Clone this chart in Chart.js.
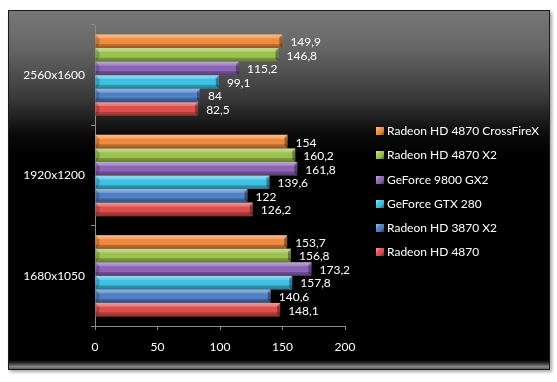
<!DOCTYPE html>
<html>
<head>
<meta charset="utf-8">
<script src="https://cdn.jsdelivr.net/npm/chart.js@4.4.1/dist/chart.umd.min.js"></script>
<style>
  html, body { margin: 0; padding: 0; background: #fff; }
  #wrap { position: relative; width: 557px; height: 382px; overflow: hidden; }
  #frame {
    position: absolute; left: 8px; top: 10px; width: 540px; height: 358px;
    border: 1px solid #1a1a1a;
    background: linear-gradient(to bottom, #767676 0%, #676767 10%, #3a3a3a 24%, #0c0c0c 34%, #000 40%, #000 100%);
    box-shadow: 2px 2px 3px rgba(0,0,0,0.35);
  }
  #floor {
    position: absolute; left: 0; right: 0; bottom: 0; height: 9px;
    background: linear-gradient(to bottom, #000 0%, #3a3a3a 40%, #8a8a8a 75%, #5a5a5a 100%);
  }
  #c { position: absolute; left: 0; top: 0; }
  #legend { position: absolute; left: 376px; top: 124px; font-family: Lato, "Noto Sans", sans-serif; font-size: 12px; color: #fff; }
  .li { height: 24.3px; line-height: 14px; white-space: nowrap; display: flex; align-items: flex-start; }
  .sw { width: 8px; height: 8px; margin-top: 3px; margin-right: 3px; }
</style>
</head>
<body>
<div id="wrap">
  <div id="frame"><div id="floor"></div></div>
  <canvas id="c" width="557" height="382"></canvas>
  <div id="legend"></div>
</div>
<script>
const categories = ['2560x1600', '1920x1200', '1680x1050'];
const seriesNames = ['Radeon HD 4870 CrossFireX', 'Radeon HD 4870 X2', 'GeForce 9800 GX2', 'GeForce GTX 280', 'Radeon HD 3870 X2', 'Radeon HD 4870'];
const crossFireX = [149.9, 154, 153.7];
const hd4870x2 = [146.8, 160.2, 156.8];
const gf9800gx2 = [115.2, 161.8, 173.2];
const gtx280 = [99.1, 139.6, 157.8];
const hd3870x2 = [84, 122, 140.6];
const hd4870 = [82.5, 126.2, 148.1];
const xTicks = [0, 50, 100, 150, 200];

const seriesValues = [crossFireX, hd4870x2, gf9800gx2, gtx280, hd3870x2, hd4870];
const seriesColors = ['#F08B3D', '#9CC24E', '#8B64B6', '#3DC2E4', '#4F7FC4', '#DE4F4B'];
const FONT = 'Lato, "Noto Sans", sans-serif';

const datasets = seriesNames.map((name, i) => ({
  label: name,
  data: seriesValues[i],
  backgroundColor: seriesColors[i],
  borderWidth: 0,
  categoryPercentage: 0.81,
  barPercentage: 1.0
}));

const bevelPlugin = {
  id: 'bevel',
  afterDatasetsDraw(chart) {
    const ctx = chart.ctx;
    ctx.save();
    chart.data.datasets.forEach((ds, di) => {
      const meta = chart.getDatasetMeta(di);
      meta.data.forEach((el, idx) => {
        const left = Math.min(el.base, el.x), right = Math.max(el.base, el.x);
        const h = el.height, top = el.y - h / 2, bot = el.y + h / 2;
        const g = ctx.createLinearGradient(0, top, 0, bot);
        g.addColorStop(0, 'rgba(255,255,255,0.45)');
        g.addColorStop(0.28, 'rgba(255,255,255,0.18)');
        g.addColorStop(0.32, 'rgba(255,255,255,0)');
        g.addColorStop(0.68, 'rgba(0,0,0,0)');
        g.addColorStop(0.72, 'rgba(0,0,0,0.2)');
        g.addColorStop(1, 'rgba(0,0,0,0.38)');
        ctx.fillStyle = g;
        ctx.fillRect(left, top, right - left, h);
        // right end cap
        ctx.fillStyle = 'rgba(0,0,0,0.35)';
        ctx.beginPath();
        ctx.moveTo(right - 3, top + 3);
        ctx.lineTo(right, top);
        ctx.lineTo(right, bot);
        ctx.lineTo(right - 3, bot - 3);
        ctx.closePath();
        ctx.fill();
        // left bevel
        ctx.fillStyle = 'rgba(0,0,0,0.18)';
        ctx.beginPath();
        ctx.moveTo(left, top);
        ctx.lineTo(left + 4, top + 4);
        ctx.lineTo(left + 4, bot - 4);
        ctx.lineTo(left, bot);
        ctx.closePath();
        ctx.fill();
        // value label
        const v = ds.data[idx];
        ctx.fillStyle = '#ffffff';
        ctx.font = '12px ' + FONT;
        ctx.textAlign = 'left';
        ctx.textBaseline = 'middle';
        ctx.fillText(String(v).replace('.', ','), right + 8, el.y + 1);
      });
    });
    ctx.restore();
  }
};

new Chart(document.getElementById('c'), {
  type: 'bar',
  data: { labels: categories, datasets },
  options: {
    indexAxis: 'y',
    responsive: false,
    animation: false,
    layout: { padding: { left: 0, top: 25, right: 212, bottom: 0 } },
    plugins: { legend: { display: false }, tooltip: { enabled: false } },
    scales: {
      x: {
        min: xTicks[0], max: xTicks[xTicks.length - 1],
        afterBuildTicks(scale) { scale.ticks = xTicks.map(v => ({ value: v })); },
        afterFit(scale) { scale.height = 56; },
        ticks: { color: '#ffffff', font: { family: FONT, size: 12 }, padding: 10, maxRotation: 0 },
        grid: { drawOnChartArea: false, color: '#8c8c8c', tickLength: 4, tickColor: '#8c8c8c' },
        border: { color: '#8c8c8c' }
      },
      y: {
        afterFit(scale) { scale.width = 95; },
        ticks: { color: '#ffffff', font: { family: FONT, size: 12 }, padding: 6 },
        grid: { drawOnChartArea: false, offset: true, color: '#8c8c8c', tickLength: 4, tickColor: '#8c8c8c' },
        border: { color: '#8c8c8c' }
      }
    }
  },
  plugins: [bevelPlugin]
});

const legendEl = document.getElementById('legend');
seriesNames.forEach((name, i) => {
  const row = document.createElement('div');
  row.className = 'li';
  const sw = document.createElement('div');
  sw.className = 'sw';
  sw.style.background = 'linear-gradient(135deg, rgba(255,255,255,0.5), ' + seriesColors[i] + ' 45%, ' + seriesColors[i] + ' 60%, rgba(0,0,0,0.5))';
  sw.style.backgroundColor = seriesColors[i];
  const tx = document.createElement('span');
  tx.textContent = name;
  row.appendChild(sw); row.appendChild(tx);
  legendEl.appendChild(row);
});
</script>
</body>
</html>
